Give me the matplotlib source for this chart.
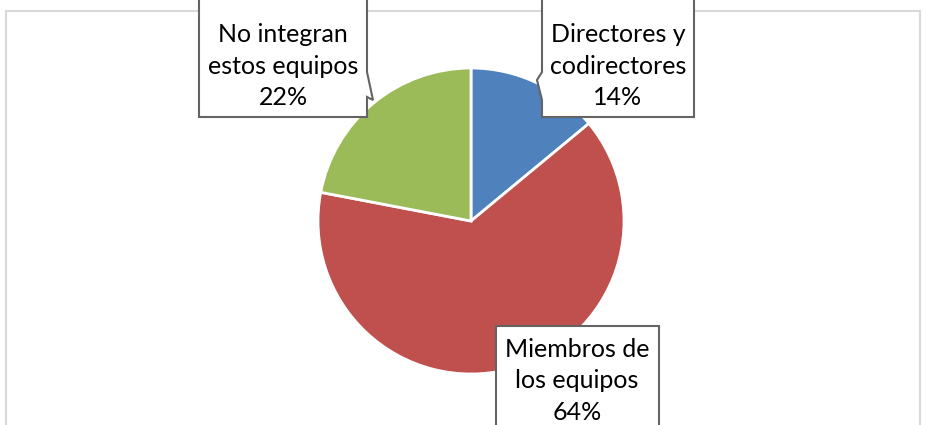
import matplotlib
matplotlib.use("Agg")
import matplotlib.pyplot as plt
from matplotlib.patches import Polygon
from matplotlib.lines import Line2D

categories = ["Directores y\ncodirectores", "Miembros de\nlos equipos", "No integran\nestos equipos"]
values = [14, 64, 22]
colors = ["#4F81BD", "#C0504D", "#9BBB59"]

W, H = 926, 425
fig = plt.figure(figsize=(W / 100, H / 100), dpi=100)
fig.patch.set_facecolor("white")

def fx(x):
    return x / W

def fy(y):
    return 1 - y / H

# chart border (light gray)
for xs, ys in [((6, 920), (11, 11)), ((6, 6), (11, 430)), ((920, 920), (11, 430))]:
    fig.add_artist(Line2D([fx(v) for v in xs], [fy(v) for v in ys],
                          transform=fig.transFigure, color="#D9D9D9", lw=1.5, zorder=0.5))

# pie
cx, cy, r = 471, 221, 153
ax = fig.add_axes([fx(cx - r), fy(cy + r), 2 * r / W, 2 * r / H])
ax.pie(values, colors=colors, startangle=90, counterclock=False,
       wedgeprops=dict(edgecolor="white", linewidth=2))
ax.set_xlim(-1, 1)
ax.set_ylim(-1, 1)
ax.axis("off")

# label boxes (pixel coords): outline polygon incl. callout pointer, text center
boxes = [
    # Directores
    dict(poly=[(542, -2), (694, -2), (694, 117), (542, 117), (542, 100), (537, 80), (542, 72)],
         tx=618, ty=66, idx=0),
    # Miembros
    dict(poly=[(496, 326), (659, 326), (659, 440), (496, 440)],
         tx=577, ty=381, idx=1),
    # No integran
    dict(poly=[(199, -2), (367, -2), (367, 72), (373, 100), (367, 97), (367, 117), (199, 117)],
         tx=283, ty=66, idx=2),
]

for b in boxes:
    pts = [(fx(x), fy(y)) for x, y in b["poly"]]
    fig.add_artist(Polygon(pts, closed=True, transform=fig.transFigure,
                           facecolor="white", edgecolor="#646464", lw=1.5, zorder=2))
    i = b["idx"]
    fig.text(fx(b["tx"]), fy(b["ty"]), f"{categories[i]}\n{values[i]}%",
             ha="center", va="center", fontsize=18, family="Lato",
             linespacing=1.45, color="black", zorder=3)

fig.savefig("out.png", dpi=100)
